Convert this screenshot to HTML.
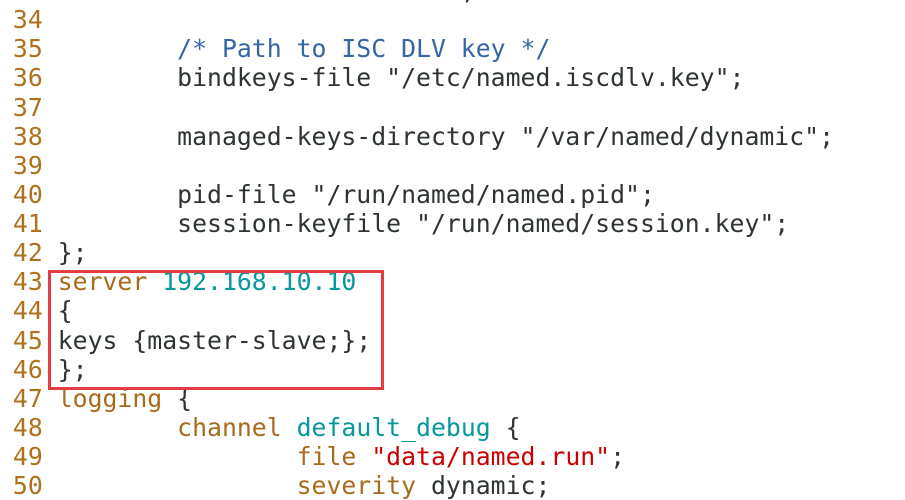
<!DOCTYPE html>
<html><head><meta charset="utf-8"><style>
html,body{margin:0;padding:0;background:#fff;width:905px;height:500px;overflow:hidden}
pre{position:absolute;left:-2px;top:-24px;margin:0;font-family:"DejaVu Sans Mono","Liberation Mono",monospace;font-size:24.8px;line-height:29.12px;color:#2e3436;white-space:pre}
.n{color:#b0701c}.k{color:#a86a1c}.c{color:#3465a4}.t{color:#06989a}.r{color:#cc0000}
.box{position:absolute;left:48px;top:270px;width:330px;height:114px;border:3px solid #e23c44}
</style></head><body>
<pre><span class="n"> 33 </span>                           ;
<span class="n"> 34 </span>
<span class="n"> 35 </span>        <span class="c">/* Path to ISC DLV key */</span>
<span class="n"> 36 </span>        bindkeys-file "/etc/named.iscdlv.key";
<span class="n"> 37 </span>
<span class="n"> 38 </span>        managed-keys-directory "/var/named/dynamic";
<span class="n"> 39 </span>
<span class="n"> 40 </span>        pid-file "/run/named/named.pid";
<span class="n"> 41 </span>        session-keyfile "/run/named/session.key";
<span class="n"> 42 </span>};
<span class="n"> 43 </span><span class="k">server</span> <span class="t">192.168.10.10</span>
<span class="n"> 44 </span>{
<span class="n"> 45 </span>keys {master-slave;};
<span class="n"> 46 </span>};
<span class="n"> 47 </span><span class="k">logging</span> {
<span class="n"> 48 </span>        <span class="k">channel</span> <span class="t">default_debug</span> {
<span class="n"> 49 </span>                <span class="k">file</span> <span class="r">"data/named.run"</span>;
<span class="n"> 50 </span>                <span class="k">severity</span> dynamic;
</pre>
<div class="box"></div>
</body></html>
